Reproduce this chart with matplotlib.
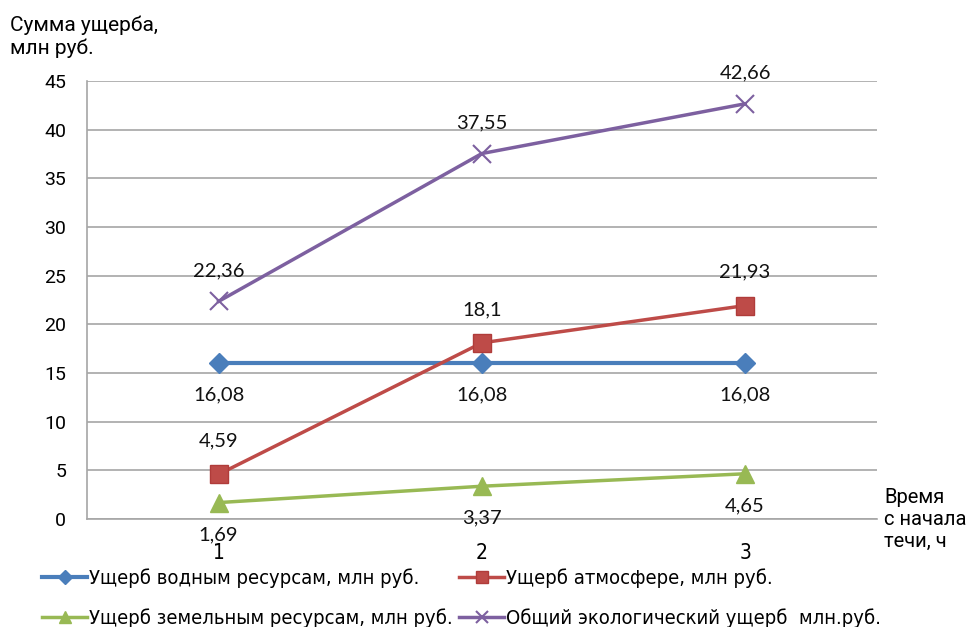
import matplotlib.pyplot as plt
from matplotlib.ticker import MultipleLocator

# hours since the leak started
hours = [1, 2, 3]

water = [16.08, 16.08, 16.08]
air = [4.59, 18.1, 21.93]
land = [1.69, 3.37, 4.65]
total = [22.36, 37.55, 42.66]

water_name = 'Ущерб водным ресурсам, млн руб.'
air_name = 'Ущерб атмосфере, млн руб.'
land_name = 'Ущерб земельным ресурсам, млн руб.'
total_name = 'Общий экологический ущерб  млн.руб.'

plt.rcParams['font.family'] = ['Roboto', 'DejaVu Sans']

fig = plt.figure(figsize=(9.75, 6.27), dpi=100)
ax = fig.add_axes([0.0892, 0.1722, 0.810, 0.6986])

grid_c = '#a6a6a6'
l_water, = ax.plot(hours, water, color='#4a7ebb', lw=3, marker='D', ms=10, zorder=3)
l_air, = ax.plot(hours, air, color='#be4b48', lw=2.5, marker='s', ms=13,
                 mec='#b03c3a', zorder=4)
l_land, = ax.plot(hours, land, color='#98b954', lw=2.5, marker='^', ms=13, zorder=3)
l_total, = ax.plot(hours, total, color='#7d60a0', lw=2.5, marker='x', ms=13,
                   mew=1.5, zorder=5)

# value labels: above for air and total, below for water and land
lab_font = dict(family=['Lato', 'DejaVu Sans'], fontsize=14.5, color='#111111',
                ha='center', va='center')
for series, dy in [(total, 22), (air, 24), (water, -23), (land, -23)]:
    for x, v in zip(hours, series):
        txt = f'{v:g}'.replace('.', ',')
        ax.annotate(txt, (x, v), xytext=(0, dy), textcoords='offset points', **lab_font)

ax.set_xlim(0.5, 3.5)
ax.set_ylim(0, 45)
ax.yaxis.set_major_locator(MultipleLocator(5))
ax.set_xticks(hours)
ax.grid(axis='y', color=grid_c, lw=1.2)
ax.set_axisbelow(True)
for side in ['top', 'right']:
    ax.spines[side].set_visible(False)
for side in ['left', 'bottom']:
    ax.spines[side].set_color(grid_c)
    ax.spines[side].set_linewidth(1.2)
ax.tick_params(axis='y', length=0, pad=15, labelsize=14)
ax.tick_params(axis='x', length=0, pad=17, labelsize=15)
for t in ax.get_xticklabels():
    t.set_family('DejaVu Sans')
    t.set_stretch('condensed')

fig.text(0.010, 0.975, 'Сумма ущерба,\nмлн руб.', fontsize=15, va='top',
         linespacing=1.2)
fig.text(0.907, 0.222, 'Время\nс начала\nтечи, ч', fontsize=14.5, va='top',
         linespacing=1.2)

fig.legend([l_water, l_land, l_air, l_total],
           [water_name, land_name, air_name, total_name],
           ncol=2, loc='upper left', bbox_to_anchor=(0.043, 0.093),
           frameon=False, handlelength=2.25, handletextpad=0.1, markerscale=0.7,
           columnspacing=0.3, labelspacing=0.97, borderaxespad=0, borderpad=0,
           prop={'family': 'DejaVu Sans', 'stretch': 'condensed', 'size': 14.5})

fig.savefig('out.png', dpi=100)
